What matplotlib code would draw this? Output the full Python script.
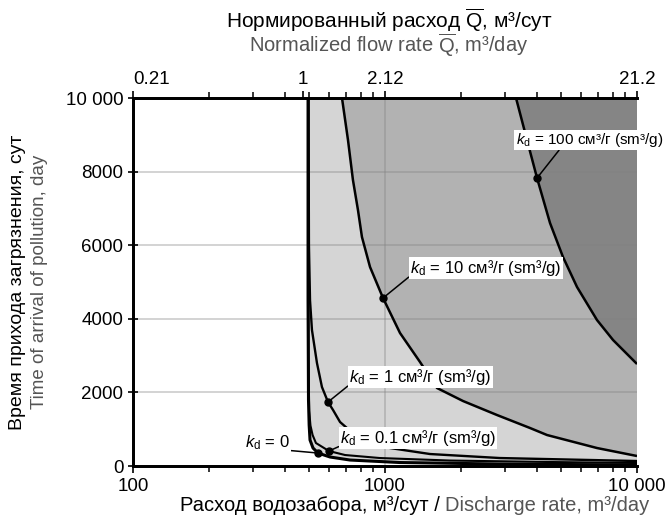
import numpy as np
import matplotlib
matplotlib.use('Agg')
import matplotlib.pyplot as plt
from matplotlib.ticker import LogLocator, NullFormatter

plt.rcParams['font.family'] = 'Liberation Sans'
plt.rcParams['mathtext.fontset'] = 'custom'
plt.rcParams['mathtext.rm'] = 'Liberation Sans'
plt.rcParams['mathtext.it'] = 'Liberation Sans:italic'

## Данные: Q - расход (м3/сут), T - время (сут)

q_kd0 = [495, 495, 497, 500, 504, 518, 542, 605, 726, 1147, 2859, 10000]
t_kd0 = [10000, 4511, 1793, 1114, 707, 489, 353, 245, 163, 95, 54, 27]

q_kd01 = [496, 497, 500, 506, 516, 532, 599, 694, 955, 1811, 4516, 10000]
t_kd01 = [10000, 3000, 1500, 1100, 842, 625, 408, 299, 217, 149, 109, 82]

q_kd1 = [497, 499, 504, 513, 537, 562, 594, 622, 663, 760, 872, 1047, 1509, 2859, 10000]
t_kd1 = [10000, 6000, 4500, 3696, 2799, 2147, 1739, 1522, 1196, 842, 652, 489, 326, 217, 136]

q_kd10 = [675, 713, 746, 781, 810, 872, 982, 1147, 1377, 1608, 2040, 2782, 3762, 4396, 6937, 10000]
t_kd10 = [10000, 8859, 7772, 6957, 6223, 5408, 4565, 3614, 2826, 2120, 1766, 1386, 1033, 842, 489, 272]

q_kd100 = [3310, 3660, 4011, 4516, 5085, 5780, 6937, 8033, 10000]
t_kd100 = [10000, 8859, 7826, 6603, 5679, 4864, 3967, 3424, 2772]

# точки подписей
dot_q = [542, 599, 594, 982, 4011]
dot_t = [353, 408, 1739, 4565, 7826]
dot_labels = [r'$k_\mathrm{d}$ = 0',
              r'$k_\mathrm{d}$ = 0.1 см³/г (sm³/g)',
              r'$k_\mathrm{d}$ = 1 см³/г (sm³/g)',
              r'$k_\mathrm{d}$ = 10 см³/г (sm³/g)',
              r'$k_\mathrm{d}$ = 100 см³/г (sm³/g)']

x_ticks = [100, 1000, 10000]
x_tick_labels = ['100', '1000', '10 000']
y_ticks = [0, 2000, 4000, 6000, 8000, 10000]
y_tick_labels = ['0', '2000', '4000', '6000', '8000', '10 000']

Q_NORM = 471.7
top_ticks = np.array([0.21, 1, 2.12, 21.2])
top_tick_labels = ['0.21', '1', '2.12', '21.2']

fig = plt.figure(figsize=(6.66, 5.2), dpi=100)
ax = fig.add_axes([0.1997, 0.1038, 0.7568, 0.7077])

# заливки областей
ax.fill(q_kd0 + [10000], t_kd0 + [10000], color='#d5d5d5', lw=0, zorder=0)
ax.fill(q_kd10 + [10000], t_kd10 + [10000], color='#b2b2b2', lw=0, zorder=0.5)
ax.fill(q_kd100 + [10000], t_kd100 + [10000], color='#858585', lw=0, zorder=0.8)

# сетка
for y in y_ticks[1:-1]:
    ax.axhline(y, color='#808080', alpha=0.4, lw=1.2, zorder=1.5)
ax.axvline(1000, color='#808080', alpha=0.4, lw=1.2, zorder=1.5)

for q, t, w in [(q_kd0, t_kd0, 2.2), (q_kd01, t_kd01, 1.5), (q_kd1, t_kd1, 1.7),
                (q_kd10, t_kd10, 1.8), (q_kd100, t_kd100, 1.8)]:
    ax.plot(q, t, color='black', lw=w, zorder=3, solid_capstyle='butt')

ax.plot(dot_q, dot_t, 'o', color='black', ms=5, zorder=5)

# подписи с выносками
label_pos = [(419, 625, 'right', (1, 0.1), 12),
             (663, 761, 'left', (0, 0.1), 12),
             (720, 2418, 'left', (0, 0.1), 12),
             (1257, 5380, 'left', (0, 0.1), 12),
             (3300, 8859, 'left', (0.3, 0), 11)]
for i in range(len(dot_q)):
    lq, lt, ha, rp, fs = label_pos[i]
    ax.annotate(dot_labels[i], xy=(dot_q[i], dot_t[i]), xytext=(lq, lt),
                ha=ha, va='center', fontsize=fs, zorder=6, annotation_clip=False,
                bbox=dict(boxstyle='square,pad=0.08', fc='white', ec='none'),
                arrowprops=dict(arrowstyle='-', lw=1.1, color='black', relpos=rp,
                                shrinkA=0, shrinkB=0))

ax.set_xscale('log')
ax.set_xlim(100, 10000)
ax.set_ylim(0, 10000)
ax.set_xticks(x_ticks, x_tick_labels)
ax.xaxis.set_minor_locator(LogLocator(base=10, subs=np.arange(2, 10)))
ax.xaxis.set_minor_formatter(NullFormatter())
ax.set_yticks(y_ticks, y_tick_labels)

ax.tick_params(which='major', labelsize=13.5, width=1.2, length=5, direction='out')
ax.tick_params(which='minor', width=1.1, length=4, direction='out')
ax.tick_params(axis='y', direction='inout', length=7)

# верхняя ось - нормированный расход
ax2 = ax.twiny()
ax2.set_xscale('log')
ax2.set_xlim(ax.get_xlim())
ax2.set_xticks(np.clip(top_ticks * Q_NORM, 100, 10000), top_tick_labels)
ax2.xaxis.set_minor_locator(LogLocator(base=10, subs=np.arange(2, 10)))
ax2.xaxis.set_minor_formatter(NullFormatter())
ax2.tick_params(which='major', labelsize=13.5, width=1.2, length=5, direction='out', pad=2)
ax2.tick_params(which='minor', width=1.1, length=4, direction='out')
ax2.get_xticklabels()[0].set_ha('left')

for a in (ax, ax2):
    a.spines['right'].set_visible(False)
    for s in ('left', 'bottom', 'top'):
        a.spines[s].set_linewidth(2)

grey = '#555555'
fig.text(0.584, 0.9615, r'Нормированный расход $\overline{\mathrm{Q}}$, м³/сут',
         ha='center', va='center', fontsize=15)
fig.text(0.584, 0.913, r'Normalized flow rate $\overline{\mathrm{Q}}$, m³/day',
         ha='center', va='center', fontsize=14.5, color=grey)
fig.text(0.027, 0.458, 'Время прихода загрязнения, сут', rotation=90,
         ha='center', va='center', fontsize=14)
fig.text(0.06, 0.458, 'Time of arrival of pollution, day', rotation=90,
         ha='center', va='center', fontsize=13.5, color=grey)

t1 = fig.text(0.661, 0.0096, 'Расход водозабора, м³/сут /', ha='right', va='bottom',
              fontsize=14.5)
ax.annotate('Discharge rate, m³/day', xy=(1, 0), xycoords=t1, xytext=(3.5, 0),
            textcoords='offset points', ha='left', va='bottom', fontsize=14.5,
            color=grey, annotation_clip=False)

fig.savefig('out.png', dpi=100)
